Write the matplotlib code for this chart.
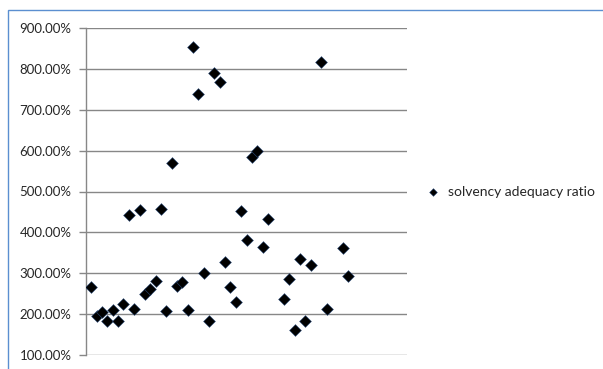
import matplotlib.pyplot as plt
from matplotlib.ticker import PercentFormatter, MultipleLocator
from matplotlib.patches import Rectangle

# observation number and solvency adequacy ratio (1.00 = 100%)
obs = [1, 2, 3, 4, 5, 6, 7, 8, 9, 10, 11, 12, 13, 14, 15, 16, 17, 18, 19, 20,
       21, 22, 23, 24, 25, 26, 27, 28, 29, 30, 31, 32, 33, 34,
       37, 38, 39, 40, 41, 42, 44, 45, 48, 49]
ratio = [2.66, 1.95, 2.05, 1.83, 2.11, 1.83, 2.24, 4.43, 2.13, 4.55,
         2.49, 2.62, 2.82, 4.58, 2.08, 5.69, 2.70, 2.79, 2.10, 8.54,
         7.39, 3.00, 1.83, 7.89, 7.67, 3.28, 2.66, 2.30, 4.52, 3.81,
         5.84, 6.00, 3.65, 4.33,
         2.36, 2.85, 1.61, 3.34, 1.84, 3.20, 8.17, 2.13, 3.62, 2.94]
series_name = "solvency adequacy ratio"

plt.rcParams['font.family'] = ['Lato', 'DejaVu Sans']

fig = plt.figure(figsize=(6.03, 3.69), dpi=100)
ax = fig.add_axes([86 / 603, 1 - 355 / 369, 321 / 603, 327 / 369])

grid_col = "#878787"
ax.scatter(obs, ratio, marker="D", s=36, color="black",
           edgecolors="#2b4a78", linewidths=0.4, zorder=3, label=series_name)

ax.set_xlim(0, 60)
ax.set_ylim(1, 9)
ax.yaxis.set_major_locator(MultipleLocator(1))
ax.yaxis.set_major_formatter(PercentFormatter(xmax=1, decimals=2))
ax.set_xticks([])
ax.grid(axis="y", color=grid_col, linewidth=1.0)
ax.set_axisbelow(True)

for side in ["top", "right", "bottom"]:
    ax.spines[side].set_visible(False)
ax.spines["left"].set_color(grid_col)
ax.spines["left"].set_linewidth(1.0)
ax.tick_params(axis="y", length=5, width=1.0, color=grid_col,
               labelsize=9.5, labelcolor="#262626", pad=5.5)

ax.legend(loc="center left", bbox_to_anchor=(1.02, 0.5), frameon=False,
          fontsize=10, handletextpad=0.1, markerscale=0.65,
          borderaxespad=0, labelcolor="#262626")

# chart area outline (top and left edges visible)
fig.patches.append(Rectangle((8 / 603, -0.2), 1.2, 1.2 - 10 / 369,
                             transform=fig.transFigure, fill=False,
                             edgecolor="#5b8fd0", linewidth=1.0))

fig.savefig("out.png", dpi=100)
